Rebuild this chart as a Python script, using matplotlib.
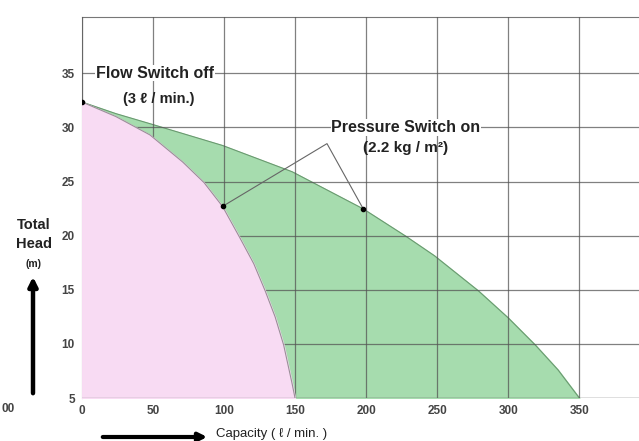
import matplotlib.pyplot as plt

plt.rcParams['font.family'] = ['Liberation Sans', 'DejaVu Sans']

# outer curve (green area)
outer_q = [0, 24, 48, 99, 148, 198, 228, 248, 279, 300, 319, 335, 350]
outer_h = [32.35, 31.27, 30.34, 28.33, 25.9, 22.47, 19.94, 18.15, 14.9, 12.4, 9.9, 7.6, 5.0]

# inner curve (pink area)
inner_q = [0, 24, 48, 71, 86, 99, 111, 121, 129, 136, 142, 148, 150]
inner_h = [32.35, 31.0, 29.3, 26.8, 24.9, 22.7, 19.85, 17.4, 14.9, 12.5, 9.9, 6.3, 5.0]

# switch points
pt_q = [0, 99, 198]
pt_h = [32.35, 22.7, 22.47]

xticks = [0, 50, 100, 150, 200, 250, 300, 350]
yticks = [5, 10, 15, 20, 25, 30, 35]

fig = plt.figure(figsize=(6.39, 4.41), dpi=100)
ax = fig.add_axes([0.128, 0.0975, 0.872, 0.864])

ax.fill_between(outer_q, 5, outer_h, color='#a6dcae', zorder=1)
ax.plot(outer_q, outer_h, color='#6a9a70', lw=0.8, zorder=2)
ax.fill_between(inner_q, 5, inner_h, color='#f8dbf3', zorder=3)
ax.plot(inner_q, inner_h, color='#9a8f98', lw=0.8, zorder=4)

ax.set_xlim(0, 392)
ax.set_ylim(5, 40.2)
ax.set_xticks(xticks)
ax.set_yticks(yticks)
ax.grid(True, color='#555555', lw=0.9, alpha=0.75, zorder=5)
ax.set_axisbelow(False)
for s in ['right', 'bottom']:
    ax.spines[s].set_visible(False)
ax.spines['top'].set_color('#777777')
ax.spines['left'].set_color('#999999')
ax.axhline(5, color='#777777', lw=0.9, zorder=5)
ax.tick_params(length=0, labelsize=8.5, colors='#444444', pad=5)
for lab in ax.get_xticklabels() + ax.get_yticklabels():
    lab.set_fontweight('bold')

ax.scatter(pt_q, pt_h, s=9, color='black', zorder=7)

# pressure switch leader lines
vx, vy = 172.5, 28.5
ax.plot([pt_q[1], vx, pt_q[2]], [pt_h[1], vy, pt_h[2]], color='#666666', lw=0.8, zorder=6)

ax.text(51.5, 35, 'Flow Switch off', ha='center', va='center', fontsize=11.5,
        fontweight='bold', color='#222222', zorder=8,
        bbox=dict(facecolor='white', edgecolor='none', pad=0.5))
ax.text(54, 32.6, '(3 \u2113 / min.)', ha='center', va='center', fontsize=10.5,
        fontweight='bold', color='#222222', zorder=8)
ax.text(228, 30, 'Pressure Switch on', ha='center', va='center', fontsize=11.5,
        fontweight='bold', color='#222222', zorder=8,
        bbox=dict(facecolor='white', edgecolor='none', pad=0.5))
ax.text(228, 28.05, '(2.2 kg / m\u00b2)', ha='center', va='center', fontsize=11,
        fontweight='bold', color='#222222', zorder=8)

# outside labels and arrows
fig.text(34 / 639, 1 - 225 / 441, 'Total', ha='center', va='center',
         fontsize=10.5, fontweight='bold', color='#222222')
fig.text(34 / 639, 1 - 244 / 441, 'Head', ha='center', va='center',
         fontsize=10.5, fontweight='bold', color='#222222')
fig.text(34 / 639, 1 - 264 / 441, '(m)', ha='center', va='center',
         fontsize=7.5, fontweight='bold', color='#222222')
ax.annotate('', xy=(33 / 639, 1 - 274 / 441), xytext=(33 / 639, 1 - 396 / 441),
            xycoords='figure fraction', textcoords='figure fraction',
            arrowprops=dict(arrowstyle='-|>', color='black', lw=3.2, mutation_scale=13),
            annotation_clip=False)
ax.annotate('', xy=(210 / 639, 1 - 437 / 441), xytext=(100 / 639, 1 - 437 / 441),
            xycoords='figure fraction', textcoords='figure fraction',
            arrowprops=dict(arrowstyle='-|>', color='black', lw=3, mutation_scale=12),
            annotation_clip=False)
fig.text(216 / 639, 1 / 441, 'Capacity ( \u2113 / min. )', ha='left', va='bottom',
         fontsize=9.5, color='#222222')
fig.text(1 / 639, 1 - 409 / 441, '00', ha='left', va='center', fontsize=8.5,
         fontweight='bold', color='#444444')

fig.savefig('out.png', dpi=100)
